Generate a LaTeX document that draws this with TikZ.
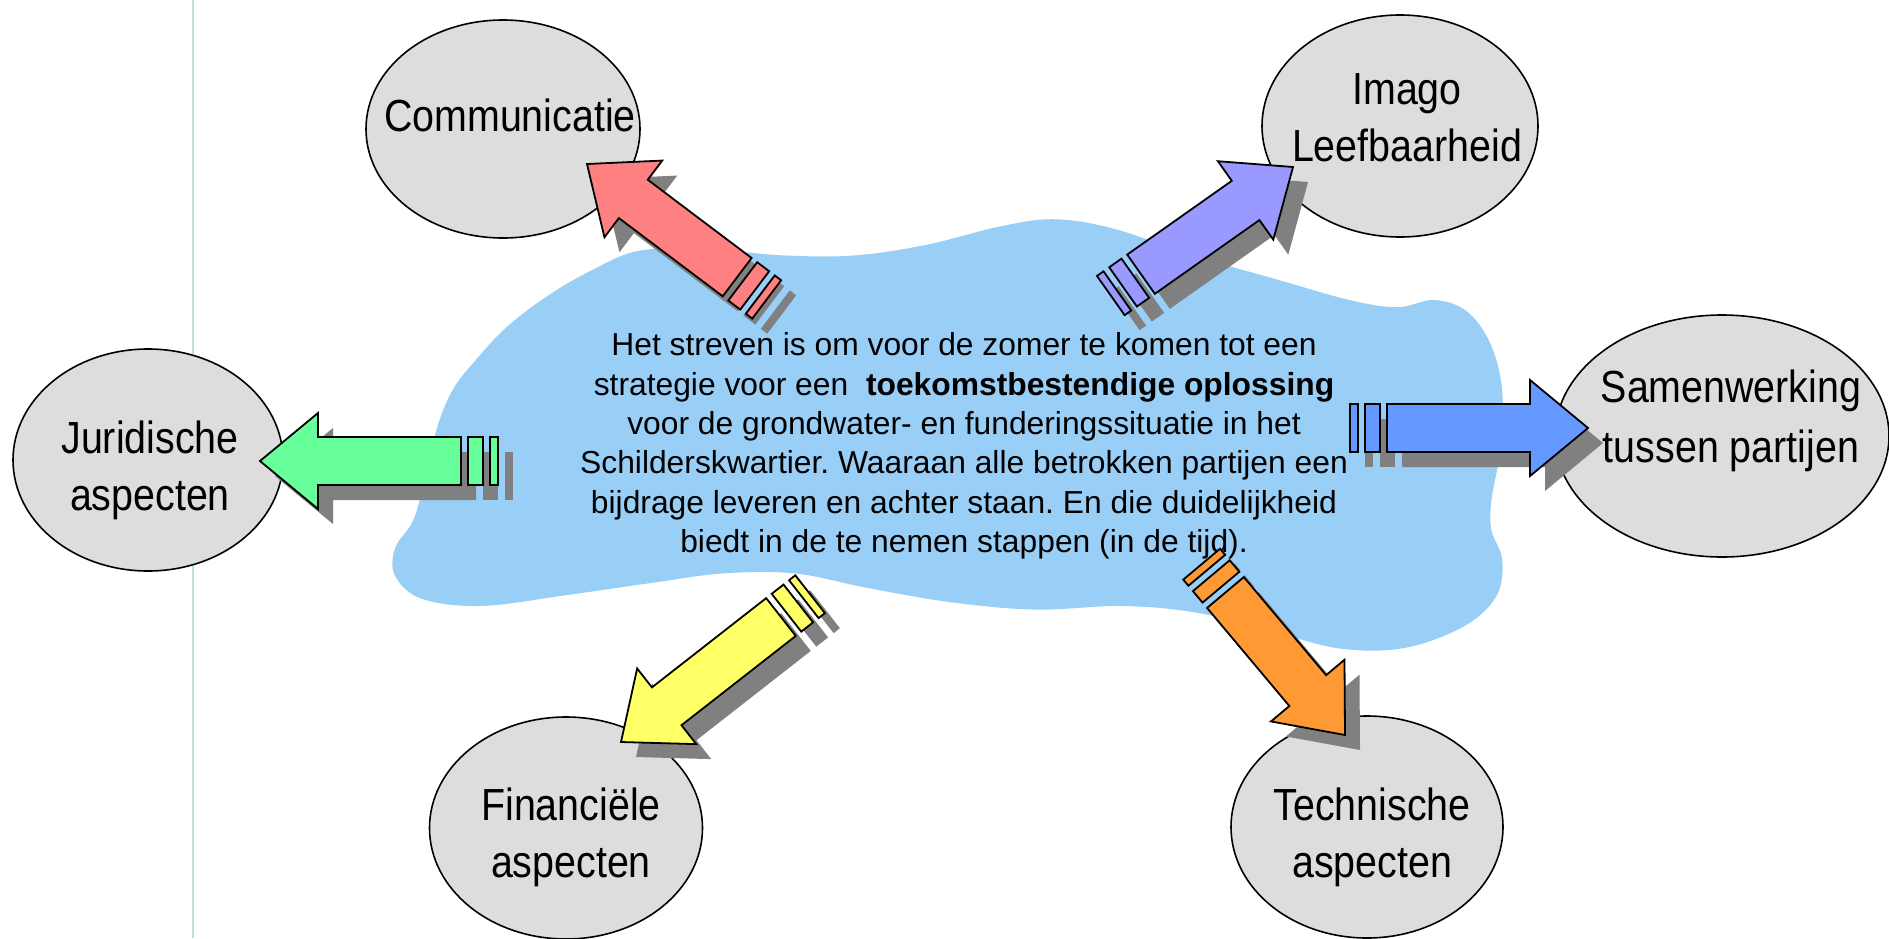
\documentclass[tikz,border=0pt]{standalone}
\usepackage{fontspec}
\setmainfont{Liberation Sans}
\newfontfamily\labelfont[FakeStretch=0.875]{Liberation Sans}
\usetikzlibrary{shapes.geometric}
\frenchspacing
\definecolor{blobblue}{RGB}{153,206,246}
\definecolor{ellgray}{RGB}{221,221,221}
\definecolor{shadowgray}{RGB}{128,128,128}
\definecolor{rulecol}{RGB}{190,226,222}
\definecolor{arrred}{RGB}{255,128,128}
\definecolor{arrpurple}{RGB}{153,153,255}
\definecolor{arrgreen}{RGB}{102,255,153}
\definecolor{arrblue}{RGB}{102,153,255}
\definecolor{arryellow}{RGB}{255,255,102}
\definecolor{arrorange}{RGB}{255,153,51}
\newcommand\arrowparts[2]{%
  \path[#2] (0,0) -- (-58,48) -- (-58,24) -- ({-58-#1},24) -- ({-58-#1},-24) -- (-58,-24) -- (-58,-48) -- cycle;
  \path[#2] ({-65-#1},24) rectangle ({-80-#1},-24);
  \path[#2] ({-87-#1},24) rectangle ({-95-#1},-24);
}
\newcommand\blockarrow[4]{%
  \begin{scope}[shift={(#1)}, shift={(15,15)}, rotate=#2]
    \arrowparts{#3}{fill=shadowgray}
  \end{scope}
  \begin{scope}[shift={(#1)}, rotate=#2]
    \arrowparts{#3}{fill=#4, draw=black, line width=1.8pt, line join=miter}
  \end{scope}
}
\tikzset{
  bubble/.style={ellipse, draw=black, line width=1.6pt, fill=ellgray, inner sep=0pt, outer sep=0pt},
  bubbletext/.style={align=center, inner sep=0pt, font=\labelfont\fontsize{45}{57}\selectfont},
  maintext/.style={align=center, inner sep=0pt, font=\fontsize{31.8}{39.3}\selectfont}
}
\begin{document}
\begin{tikzpicture}[x=1pt, y=-1pt]
\fill[white] (0,0) rectangle (1889,938);
\useasboundingbox (0,0) rectangle (1889,938);
% vertical rule
\coordinate (ruletop) at (193,0);
\coordinate (rulebot) at (193,938);
\draw[rulecol, line width=2pt] (ruletop) -- (rulebot);
% blob
\begin{scope}[scale=1.2047]
\fill[blobblue] plot[smooth cycle, tension=0.6] coordinates {
 (393,301) (420,272) (454,246) (490,225) (531,208) (590,207) (650,212) (710,212)
 (770,203) (830,188) (875,182) (925,190) (990,212) (1060,232) (1120,249) (1160,255)
 (1190,249) (1217,258) (1237,285) (1247,325) (1245,375) (1238,415) (1238,440)
 (1247,465) (1242,495) (1215,520) (1165,538) (1110,538) (1050,522) (990,508)
 (930,503) (860,506) (790,500) (720,488) (660,476) (600,476) (540,484) (470,494)
 (400,503) (350,497) (328,478) (328,455) (343,432) (352,400) (360,365) (368,340) (378,320)};
\end{scope}
% ellipses
\node[bubble, minimum width=274pt, minimum height=218pt] (com) at (503,129) {};
\node[bubble, minimum width=276pt, minimum height=222pt] (ima) at (1400,126) {};
\node[bubble, minimum width=270pt, minimum height=222pt] (jur) at (148,460) {};
\node[bubble, minimum width=334pt, minimum height=242pt] (sam) at (1722,436) {};
\node[bubble, minimum width=273pt, minimum height=222pt] (fin) at (566,828) {};
\node[bubble, minimum width=272pt, minimum height=222pt] (tec) at (1367,827) {};
\node[bubbletext] (comT) at (510,115) {Communicatie};
\node[bubbletext] (imaT) at (1407,118) {Imago\\Leefbaarheid};
\node[bubbletext] (jurT) at (150,470) {Juridische\\aspecten};
\node[bubbletext, font=\labelfont\fontsize{45}{60}\selectfont] (samT) at (1731,421) {Samenwerking\\tussen partijen};
\node[bubbletext] (finT) at (571,837) {Financiële\\aspecten};
\node[bubbletext] (tecT) at (1372,837) {Technische\\aspecten};
% centre text
\node[maintext] (txt) at (964,446) {Het streven is om voor de zomer te komen tot een\\
strategie voor een \ \textbf{toekomstbestendige oplossing}\\
voor de grondwater- en funderingssituatie in het\\
Schilderskwartier. Waaraan alle betrokken partijen een\\
bijdrage leveren en achter staan. En die duidelijkheid\\
biedt in de te nemen stappen (in de tijd).};
% arrows
\coordinate (tipR) at (587,164);
\coordinate (tipP) at (1293,167);
\coordinate (tipG) at (260,461);
\coordinate (tipB) at (1588,428);
\coordinate (tipY) at (621,742);
\coordinate (tipO) at (1345,735);
\blockarrow{tipR}{143}{130}{arrred}
\blockarrow{tipP}{35.2}{128}{arrpurple}
\blockarrow{tipG}{180}{143}{arrgreen}
\blockarrow{tipB}{0}{143}{arrblue}
\blockarrow{tipY}{218}{145}{arryellow}
\blockarrow{tipO}{-50}{128}{arrorange}
\end{tikzpicture}
\end{document}
